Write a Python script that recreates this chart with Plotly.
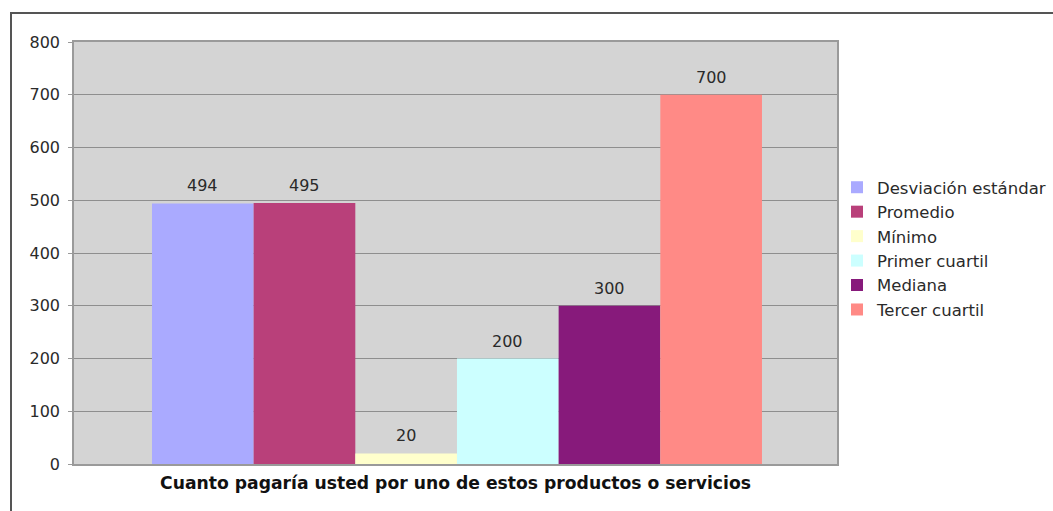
import plotly.graph_objects as go

# Resumen estadístico de lo que pagarían los encuestados
series_names = ["Desviación estándar", "Promedio", "Mínimo",
                "Primer cuartil", "Mediana", "Tercer cuartil"]
series_values = [494, 495, 20, 200, 300, 700]
series_colors = ["#AAAAFF", "#B9407A", "#FFFFCC", "#CCFFFF", "#871A7B", "#FF8A86"]
y_ticks = [0, 100, 200, 300, 400, 500, 600, 700, 800]
axis_title = "Cuanto pagaría usted por uno de estos productos o servicios"

FONT = "DejaVu Sans"
W, H = 1053, 511

fig = go.Figure()
for i, (name, val, col) in enumerate(zip(series_names, series_values, series_colors)):
    fig.add_trace(go.Bar(
        x=[i], y=[val], name=name, width=1,
        marker=dict(color=col, line=dict(width=0)),
        hoverinfo="name+y",
    ))
    fig.add_annotation(
        x=i, y=val, text=str(val), showarrow=False,
        yanchor="bottom", yshift=6,
        font=dict(family=FONT, size=16, color="#2A2A2A"),
    )

fig.update_layout(
    width=W, height=H,
    margin=dict(l=74, r=216, t=42, b=46.5, pad=0, autoexpand=False),
    paper_bgcolor="white",
    plot_bgcolor="#D4D4D4",
    barmode="overlay",
    font=dict(family=FONT, size=16, color="#2A2A2A"),
    legend=dict(
        xref="container", yref="container",
        x=837 / W, xanchor="left", y=1 - 170 / H, yanchor="top",
        font=dict(family=FONT, size=16.5, color="#2A2A2A"),
        traceorder="normal",
        bgcolor="rgba(0,0,0,0)",
    ),
    xaxis=dict(
        range=[-1.267, 6.238], showticklabels=False, showgrid=False,
        zeroline=False, ticks="", showline=True, mirror=True,
        linecolor="#9A9A9A", linewidth=1.5,
        title=dict(text="<b>" + axis_title + "</b>", standoff=12,
                   font=dict(family=FONT, size=17.2, color="#111111")),
    ),
    yaxis=dict(
        range=[0, 800], tickvals=y_ticks, ticktext=[str(t) for t in y_ticks],
        showgrid=True, gridcolor="#8E8E8E", gridwidth=1.2,
        zeroline=False, showline=True, mirror=True,
        linecolor="#9A9A9A", linewidth=1.5,
        ticks="outside", ticklen=4, tickcolor="#9A9A9A",
        ticklabelstandoff=5,
        tickfont=dict(family=FONT, size=16, color="#2A2A2A"),
    ),
)

# Marco exterior del gráfico
fig.add_shape(
    type="rect", xref="paper", yref="paper",
    x0=(11 - 74) / 763, x1=1.6, y0=-0.5, y1=1 + (42 - 13) / 422.5,
    line=dict(color="#555555", width=2), layer="above",
)

fig.write_html("out.html")
